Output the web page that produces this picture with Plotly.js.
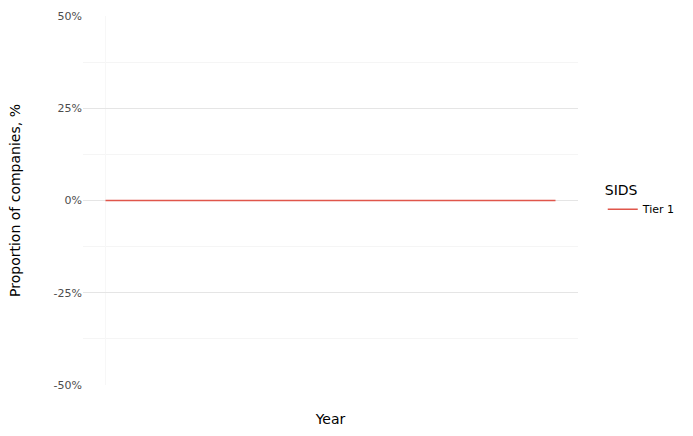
<!DOCTYPE html>
<html><head><meta charset="utf-8">
<script src="https://cdn.plot.ly/plotly-3.0.1.min.js"></script>
<style>body{margin:0}</style></head>
<body><div id="c" style="width:693px;height:436px"></div>
<script>
const years = [0, 1];
const tier1 = [0, 0];
const yTicks = [-0.5, -0.25, 0, 0.25, 0.5];
const yLabels = ['-50%', '-25%', '0%', '25%', '50%'];
Plotly.newPlot('c', [{
  x: years, y: tier1, type: 'scatter', mode: 'lines', name: 'Tier 1',
  line: {color: '#e0564b', width: 1.4}
}], {
  width: 693, height: 436,
  margin: {l: 83, r: 115, t: 16, b: 51},
  paper_bgcolor: 'white', plot_bgcolor: 'white',
  font: {family: 'DejaVu Sans', color: '#000'},
  xaxis: {range: [-0.05, 1.05], tickvals: [0], showticklabels: false, ticks: '',
    showgrid: true, gridcolor: '#f7f7f7', gridwidth: 0.5, zeroline: false,
    title: {text: 'Year', font: {size: 14}, standoff: 29}},
  yaxis: {range: [-0.5, 0.5], tickvals: yTicks, ticktext: yLabels, ticks: '',
    tickfont: {size: 11, color: '#4d4d4d'}, gridcolor: '#e5e5e5', gridwidth: 1, zeroline: false,
    minor: {tickvals: [-0.375, -0.125, 0.125, 0.375], showgrid: true, gridcolor: '#f5f5f5', gridwidth: 0.5},
    title: {text: 'Proportion of companies, %', font: {size: 14}, standoff: 29}},
  showlegend: true,
  legend: {x: 1.05, y: 0.5, yanchor: 'middle', itemwidth: 30, title: {text: 'SIDS', font: {size: 14}}, font: {size: 11}}
}, {displayModeBar: false});
</script></body></html>
